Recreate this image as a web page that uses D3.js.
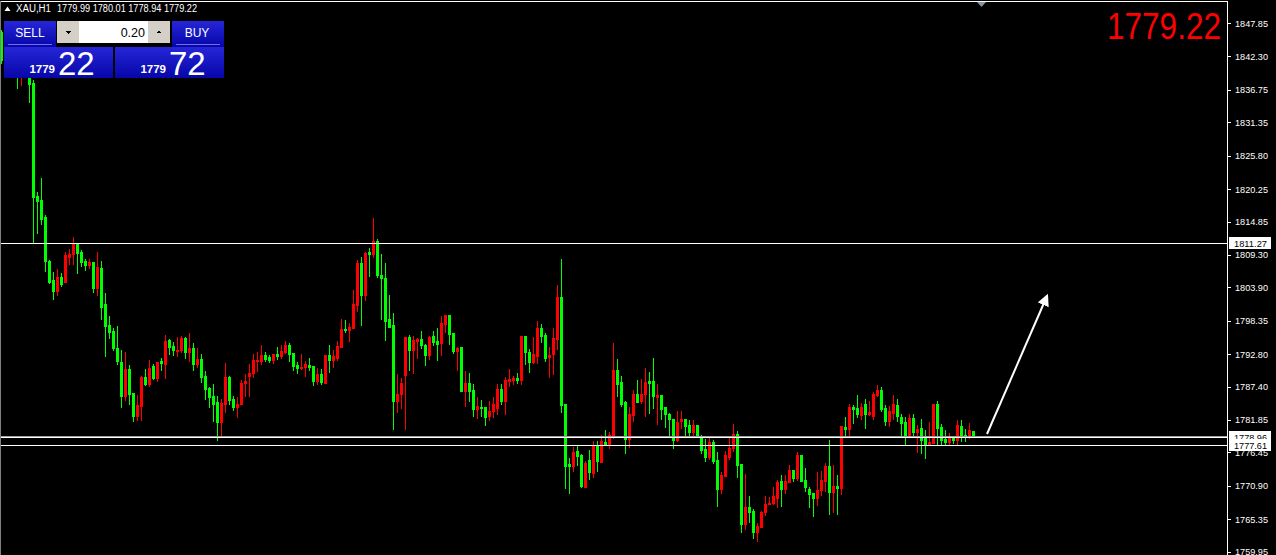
<!DOCTYPE html>
<html><head><meta charset="utf-8">
<script src="https://cdnjs.cloudflare.com/ajax/libs/d3/7.8.5/d3.min.js"></script>
<style>html,body{margin:0;padding:0;background:#000;overflow:hidden}svg{display:block}</style>
</head><body><svg id="c" width="1276" height="555"></svg>
<script>
const symbol = "XAU,H1";
const lastBar = ["1779.99", "1780.01", "1778.94", "1779.22"];
const open = [
1846.37,1842.54,1841.04,1842.37,1841.38,1839.38,1840.71,1839.72,1837.89,1819.09,
1818.43,1815.60,1808.28,1805.12,1803.29,1805.62,1804.79,1808.95,1809.44,1811.28,
1809.78,1808.28,1807.62,1808.12,1803.79,1807.12,1801.13,1797.64,1796.64,1793.81,
1791.49,1785.83,1790.32,1786.33,1782.51,1784.17,1788.99,1787.82,1790.82,1788.82,
1791.65,1791.15,1795.14,1794.15,1793.31,1793.48,1795.48,1793.15,1793.81,1791.15,
1791.99,1789.15,1787.16,1785.83,1784.83,1781.51,1784.50,1788.99,1785.33,1784.00,
1784.50,1787.99,1789.15,1789.65,1791.65,1791.65,1792.65,1792.32,1791.82,1792.81,
1792.48,1793.15,1794.31,1792.98,1790.98,1790.48,1790.65,1790.98,1790.82,1788.32,
1789.49,1787.99,1792.65,1791.82,1792.15,1793.98,1796.97,1796.81,1797.14,1800.97,
1807.95,1802.63,1809.78,1809.44,1811.61,1805.96,1805.46,1798.64,1797.64,1785.00,
1786.16,1789.32,1795.64,1793.48,1794.98,1795.31,1794.31,1792.65,1795.81,1794.98,
1794.64,1797.81,1799.30,1796.31,1793.31,1793.98,1786.66,1787.99,1786.83,1783.67,
1784.00,1784.00,1782.51,1783.34,1783.83,1786.99,1785.00,1788.32,1788.49,1788.82,
1788.49,1795.81,1793.15,1791.49,1792.48,1797.14,1795.98,1792.32,1792.81,1795.31,
1802.30,1784.50,1774.52,1774.19,1776.69,1776.02,1770.70,1775.19,1773.03,1777.52,
1774.86,1778.18,1777.85,1779.18,1790.15,1788.16,1784.83,1778.68,1782.67,1786.16,
1785.00,1786.16,1788.32,1788.32,1785.67,1786.00,1784.00,1782.84,1782.01,1778.51,
1781.67,1782.01,1781.01,1779.85,1781.01,1779.18,1777.02,1775.69,1778.18,1775.19,
1770.36,1772.53,1775.69,1777.18,1779.51,1774.52,1764.54,1767.37,1766.71,1763.21,
1764.04,1766.54,1767.87,1768.03,1768.87,1771.70,1770.36,1771.53,1773.52,1772.19,
1776.02,1771.86,1770.36,1769.70,1768.87,1770.20,1771.70,1774.19,1769.87,1770.86,
1770.53,1780.68,1780.35,1784.00,1783.83,1782.67,1784.50,1782.84,1782.51,1786.00,
1786.83,1783.83,1781.67,1783.00,1784.33,1782.34,1781.51,1779.35,1782.17,1779.85,
1780.51,1778.85,1777.68,1778.01,1784.50,1780.68,1778.68,1778.18,1779.18,1778.51,
1780.84,1779.35,1779.02,1779.99];
const high = [
1846.70,1843.37,1843.04,1843.37,1842.54,1841.71,1841.38,1840.05,1838.39,1819.76,
1822.09,1815.94,1808.45,1806.46,1806.96,1806.29,1809.78,1810.28,1812.28,1811.28,
1810.11,1808.62,1808.62,1808.12,1809.78,1808.28,1802.96,1799.14,1797.14,1797.47,
1793.48,1793.15,1790.98,1786.33,1786.00,1789.15,1790.32,1791.82,1791.15,1791.49,
1792.15,1795.98,1795.31,1794.81,1795.64,1795.81,1795.64,1796.31,1794.64,1793.81,
1792.81,1789.99,1787.33,1787.82,1785.83,1785.33,1791.32,1789.15,1785.83,1785.67,
1788.49,1789.49,1791.15,1792.81,1793.15,1794.31,1793.15,1792.65,1792.81,1793.98,
1794.31,1794.98,1794.64,1792.98,1791.49,1792.81,1791.65,1792.15,1790.82,1790.48,
1790.32,1792.65,1794.31,1793.48,1794.98,1798.64,1798.47,1797.97,1803.46,1808.45,
1808.95,1809.78,1810.45,1815.43,1811.95,1809.44,1807.95,1802.63,1799.63,1789.49,
1788.82,1795.64,1795.98,1795.81,1795.48,1796.64,1794.48,1795.81,1796.64,1797.14,
1799.14,1799.30,1799.30,1796.31,1793.98,1793.98,1789.99,1789.65,1787.82,1785.67,
1785.17,1784.00,1785.00,1785.67,1787.82,1787.82,1788.99,1790.32,1789.15,1789.65,
1795.81,1795.81,1793.65,1795.64,1798.30,1797.81,1796.31,1793.98,1797.14,1804.29,
1808.62,1784.50,1775.52,1777.35,1777.52,1776.18,1775.02,1776.85,1778.35,1778.35,
1779.35,1780.18,1779.85,1794.64,1791.99,1789.15,1785.00,1784.00,1786.83,1788.49,
1788.66,1790.48,1789.82,1792.15,1787.82,1786.00,1784.00,1783.00,1782.01,1783.34,
1783.34,1782.01,1781.84,1781.84,1781.01,1779.35,1778.68,1778.85,1778.51,1776.52,
1773.19,1776.69,1778.85,1781.17,1780.01,1774.52,1772.86,1769.20,1767.04,1764.71,
1766.71,1769.20,1769.03,1770.70,1771.86,1772.69,1772.69,1774.36,1773.52,1776.52,
1776.02,1773.86,1770.70,1769.70,1773.19,1773.36,1774.69,1778.51,1774.36,1772.69,
1780.84,1782.34,1784.50,1784.33,1786.00,1784.67,1785.33,1785.00,1786.49,1787.66,
1787.33,1784.33,1784.17,1786.00,1785.33,1782.84,1782.34,1782.84,1782.84,1781.01,
1782.01,1780.18,1781.51,1784.50,1785.00,1781.17,1780.18,1779.68,1779.18,1781.84,
1781.84,1780.35,1781.34,1780.01];
const low = [
1841.21,1840.71,1840.05,1839.72,1837.06,1837.56,1839.05,1834.73,1811.45,1812.94,
1814.43,1806.62,1804.62,1801.96,1802.63,1804.12,1804.79,1807.78,1807.78,1806.29,
1807.45,1806.79,1807.12,1803.13,1802.63,1798.64,1792.48,1795.48,1793.48,1791.15,
1784.00,1785.17,1784.50,1781.67,1781.84,1781.84,1787.66,1787.49,1788.66,1788.32,
1790.15,1788.82,1792.81,1792.65,1792.48,1793.15,1792.15,1791.65,1790.15,1790.65,
1788.16,1785.33,1784.00,1781.67,1778.51,1779.35,1783.17,1784.50,1783.50,1782.34,
1784.50,1785.83,1785.83,1788.99,1789.99,1791.15,1791.65,1791.49,1791.32,1791.99,
1792.15,1792.98,1791.65,1790.15,1789.65,1790.32,1789.15,1790.15,1787.66,1787.82,
1787.82,1787.99,1789.82,1790.65,1791.82,1793.98,1796.48,1794.98,1797.14,1799.97,
1797.64,1801.80,1805.79,1808.95,1805.62,1798.64,1795.14,1797.31,1780.35,1783.17,
1783.83,1780.35,1790.15,1789.65,1792.15,1793.81,1790.98,1791.99,1794.31,1791.82,
1792.65,1796.48,1794.48,1792.98,1790.15,1786.66,1784.17,1785.00,1782.51,1782.17,
1782.51,1781.01,1781.84,1782.34,1782.84,1784.50,1782.84,1787.49,1787.82,1787.99,
1787.82,1791.15,1789.82,1791.32,1791.32,1794.81,1791.65,1788.99,1789.49,1793.65,
1783.17,1770.53,1769.70,1773.36,1774.36,1770.70,1770.70,1772.03,1772.36,1773.36,
1774.86,1777.68,1777.18,1778.85,1785.83,1784.17,1776.35,1777.35,1781.67,1784.83,
1784.67,1782.51,1783.00,1783.83,1781.17,1782.01,1780.68,1779.02,1777.18,1778.35,
1780.51,1779.35,1779.35,1779.35,1779.02,1776.35,1775.02,1775.36,1774.69,1767.53,
1769.70,1772.53,1775.36,1776.69,1772.36,1763.21,1763.71,1764.88,1762.21,1761.71,
1764.04,1766.04,1767.87,1767.87,1767.37,1767.53,1769.70,1771.53,1771.70,1771.86,
1771.70,1770.03,1767.37,1765.87,1767.70,1769.37,1770.03,1766.21,1766.54,1766.21,
1769.53,1779.18,1779.35,1781.34,1782.34,1782.01,1780.51,1782.67,1782.01,1785.83,
1783.34,1781.01,1780.84,1782.01,1781.67,1779.02,1777.68,1779.35,1779.35,1776.52,
1776.35,1775.52,1777.68,1778.01,1777.85,1777.68,1777.85,1777.85,1778.01,1777.68,
1778.35,1778.35,1778.85,1778.94];
const close = [
1841.71,1841.38,1842.04,1840.71,1839.72,1840.71,1839.38,1837.72,1818.93,1818.26,
1815.27,1808.28,1804.79,1803.29,1805.62,1804.45,1809.28,1809.44,1811.28,1809.61,
1808.12,1807.62,1808.12,1803.79,1807.29,1800.63,1797.47,1796.48,1793.81,1791.65,
1785.83,1790.32,1786.16,1782.51,1784.33,1788.99,1787.82,1790.48,1788.82,1791.49,
1791.32,1794.98,1793.98,1793.48,1793.48,1795.48,1793.15,1793.81,1791.15,1791.99,
1788.99,1786.99,1785.67,1784.50,1781.51,1784.67,1788.99,1785.17,1784.00,1784.50,
1787.99,1788.32,1789.65,1791.82,1791.82,1792.65,1791.99,1791.82,1792.81,1792.48,
1793.31,1794.31,1792.81,1790.82,1790.48,1790.65,1791.15,1790.65,1788.32,1789.49,
1788.16,1792.65,1791.82,1792.48,1794.15,1796.97,1796.81,1797.31,1801.13,1807.95,
1802.63,1809.61,1809.44,1811.61,1805.96,1805.46,1798.30,1797.31,1785.00,1786.16,
1787.99,1795.64,1793.48,1795.14,1795.31,1794.31,1792.65,1795.64,1794.81,1794.48,
1797.97,1799.30,1796.14,1793.31,1793.81,1786.66,1787.99,1786.66,1783.67,1784.17,
1783.83,1782.34,1783.34,1784.50,1786.99,1785.00,1788.49,1788.66,1788.82,1788.49,
1795.81,1793.15,1791.49,1792.81,1797.14,1795.81,1792.15,1792.65,1795.48,1802.30,
1784.33,1774.19,1774.19,1776.52,1775.85,1770.86,1774.69,1773.19,1777.52,1775.02,
1778.35,1777.85,1779.35,1790.15,1787.82,1784.50,1778.68,1782.84,1786.16,1784.83,
1786.16,1788.16,1787.99,1785.83,1786.00,1783.67,1782.84,1782.01,1778.51,1781.51,
1782.01,1780.84,1779.85,1781.01,1779.18,1776.85,1775.69,1778.18,1775.02,1770.36,
1772.69,1776.02,1777.18,1779.51,1774.36,1764.54,1767.37,1766.54,1763.21,1764.21,
1766.54,1767.87,1768.03,1769.20,1771.53,1770.36,1771.70,1773.52,1772.19,1776.02,
1771.70,1770.70,1769.53,1768.87,1770.20,1771.86,1774.19,1769.87,1770.86,1770.53,
1780.84,1780.35,1784.00,1783.67,1782.84,1784.00,1782.84,1783.17,1786.16,1786.83,
1783.67,1781.67,1783.34,1784.50,1782.51,1781.34,1779.35,1782.17,1779.85,1780.35,
1778.51,1777.68,1778.18,1784.50,1780.51,1778.51,1778.18,1779.18,1778.51,1781.01,
1779.18,1779.02,1780.18,1779.22];
const tickValues = [1847.85,1842.30,1836.75,1831.35,1825.80,1820.25,1814.85,1809.30,1803.90,
  1798.35,1792.80,1787.40,1781.85,1776.45,1770.90,1765.35,1759.95];
const hLines = [1811.27, 1778.96, 1777.61];
const bidPrice = 1779.22;
const askPrice = 1779.72;
const lotSize = "0.20";
const arrowFrom = [246.5, 1779.51];
const arrowTo = [261.5, 1802.46];

const W = 1276, H = 555, plotRight = 1227;
const svg = d3.select("#c");
const x = d3.scaleLinear().domain([0, open.length - 1]).range([1, 973]);
const y = d3.scaleLinear().domain([1759.39, 1851.69]).range([555, 0]);
const font = "'Liberation Sans', Arial, sans-serif";

svg.append("rect").attr("width", W).attr("height", H).attr("fill", "#000");

const bars = open.map((o, i) => ({i, o, h: high[i], l: low[i], c: close[i]}));
const g = svg.append("g").attr("shape-rendering", "crispEdges");
const col = d => d.c >= d.o ? "#ff0000" : "#00ff00";
g.selectAll("rect.w").data(bars).join("rect").attr("class", "w")
  .attr("x", d => Math.round(x(d.i))).attr("width", 1)
  .attr("y", d => Math.round(y(d.h)))
  .attr("height", d => Math.round(y(d.l)) - Math.round(y(d.h)) + 1)
  .attr("fill", col);
g.selectAll("rect.b").data(bars).join("rect").attr("class", "b")
  .attr("x", d => Math.round(x(d.i)) - 1).attr("width", 3)
  .attr("y", d => Math.round(y(Math.max(d.o, d.c))))
  .attr("height", d => Math.round(y(Math.min(d.o, d.c))) - Math.round(y(Math.max(d.o, d.c))) + 1)
  .attr("fill", col);

// bid line and horizontal lines
const lg = svg.append("g").attr("shape-rendering", "crispEdges");
lg.append("line").attr("x1", 0).attr("x2", plotRight)
  .attr("y1", Math.round(y(bidPrice)) + 0.5).attr("y2", Math.round(y(bidPrice)) + 0.5)
  .attr("stroke", "#a0a0a0");
lg.selectAll("line.h").data(hLines).join("line").attr("class", "h")
  .attr("x1", 0).attr("x2", plotRight)
  .attr("y1", d => Math.round(y(d)) + 0.5).attr("y2", d => Math.round(y(d)) + 0.5)
  .attr("stroke", "#fff");

// arrow
const defs = svg.append("defs");
defs.append("marker").attr("id", "ah").attr("viewBox", "0 0 10 10").attr("refX", 8).attr("refY", 5)
  .attr("markerWidth", 6).attr("markerHeight", 6).attr("orient", "auto")
  .append("path").attr("d", "M0,0L10,5L0,10z").attr("fill", "#fff");
svg.append("line").attr("x1", x(arrowFrom[0])).attr("y1", y(arrowFrom[1]))
  .attr("x2", x(arrowTo[0])).attr("y2", y(arrowTo[1]))
  .attr("stroke", "#fff").attr("stroke-width", 2).attr("marker-end", "url(#ah)");

// frame
svg.append("line").attr("x1", 0).attr("x2", plotRight).attr("y1", 1.5).attr("y2", 1.5)
  .attr("stroke", "#fff").attr("shape-rendering", "crispEdges");
svg.append("line").attr("x1", 0.5).attr("x2", 0.5).attr("y1", 1).attr("y2", H)
  .attr("stroke", "#808080").attr("shape-rendering", "crispEdges");
// shift marker
svg.append("path").attr("d", "M977,2L986,2L981.5,7Z").attr("fill", "#8494a4");

// right axis
const axis = d3.axisRight(y).tickValues(tickValues).tickSize(4).tickSizeOuter(0).tickPadding(4)
  .tickFormat(d3.format(".2f"));
const ag = svg.append("g").attr("transform", `translate(${plotRight},0)`).call(axis);
ag.select(".domain").attr("stroke", "#fff").attr("shape-rendering", "crispEdges");
ag.selectAll(".tick line").attr("stroke", "#fff").attr("shape-rendering", "crispEdges");
ag.selectAll(".tick text").attr("fill", "#fff").attr("font-family", font).attr("font-size", 9.5)
  .attr("textLength", 33).attr("lengthAdjust", "spacingAndGlyphs");

// price labels
const pl = svg.append("g").selectAll("g").data(hLines).join("g")
  .attr("transform", d => `translate(${plotRight + 2},${Math.round(y(d))})`);
pl.append("rect").attr("x", 0).attr("y", -6).attr("width", 42).attr("height", 12).attr("fill", "#fff")
  .attr("shape-rendering", "crispEdges");
pl.append("text").attr("x", 5).attr("y", 3.5).text(d => d3.format(".2f")(d))
  .attr("fill", "#000").attr("font-family", font).attr("font-size", 9.5)
  .attr("textLength", 33).attr("lengthAdjust", "spacingAndGlyphs");

// big bid
svg.append("text").attr("x", 1221).attr("y", 39).attr("text-anchor", "end")
  .attr("fill", "#ff0000").attr("font-family", font).attr("font-size", 36)
  .attr("textLength", 114).attr("lengthAdjust", "spacingAndGlyphs")
  .text(d3.format(".2f")(bidPrice));

// header
svg.append("path").attr("d", "M4.5,11L7.5,6.5L10.5,11Z").attr("fill", "#fff");
svg.append("text").attr("x", 16).attr("y", 12).attr("fill", "#fff").attr("font-family", font)
  .attr("font-size", 10).attr("textLength", 35).attr("lengthAdjust", "spacingAndGlyphs").text(symbol);
svg.append("text").attr("x", 57).attr("y", 12).attr("fill", "#fff").attr("font-family", font)
  .attr("font-size", 10).attr("textLength", 140).attr("lengthAdjust", "spacingAndGlyphs")
  .text(lastBar.join(" "));

// one-click trading panel
const grad = defs.append("linearGradient").attr("id", "bl").attr("x1", 0).attr("x2", 0).attr("y1", 0).attr("y2", 1);
grad.append("stop").attr("offset", 0).attr("stop-color", "#2626d8");
grad.append("stop").attr("offset", 1).attr("stop-color", "#0606a8");
const pg = svg.append("g").attr("shape-rendering", "crispEdges");
pg.append("rect").attr("x", 4).attr("y", 21).attr("width", 52).attr("height", 26).attr("fill", "url(#bl)");
pg.append("rect").attr("x", 172).attr("y", 21).attr("width", 52).attr("height", 26).attr("fill", "url(#bl)");
pg.append("rect").attr("x", 4).attr("y", 47).attr("width", 109).attr("height", 31).attr("fill", "url(#bl)");
pg.append("rect").attr("x", 115).attr("y", 47).attr("width", 109).attr("height", 31).attr("fill", "url(#bl)");
pg.append("rect").attr("x", 8).attr("y", 44).attr("width", 44).attr("height", 1).attr("fill", "#6f6fe8");
pg.append("rect").attr("x", 176).attr("y", 44).attr("width", 44).attr("height", 1).attr("fill", "#6f6fe8");
pg.append("rect").attr("x", 57).attr("y", 21).attr("width", 22).attr("height", 22).attr("fill", "#d4d0c8");
pg.append("rect").attr("x", 148).attr("y", 21).attr("width", 22).attr("height", 22).attr("fill", "#d4d0c8");
pg.append("rect").attr("x", 79).attr("y", 21).attr("width", 69).attr("height", 22).attr("fill", "#fff");
pg.append("path").attr("d", "M66,31L71,31L68.5,34Z").attr("fill", "#000");
pg.append("path").attr("d", "M156.5,33L161.5,33L159,30Z").attr("fill", "#000");
const t = (xx, yy, s, size, anchor, weight) => svg.append("text").attr("x", xx).attr("y", yy)
  .attr("fill", "#fff").attr("font-family", font).attr("font-size", size)
  .attr("text-anchor", anchor || "start").attr("font-weight", weight || "normal").text(s);
t(30, 37, "SELL", 12, "middle");
t(197, 37, "BUY", 12, "middle");
t(145, 36.5, lotSize, 12.5, "end").attr("fill", "#000");
const bidS = d3.format(".2f")(bidPrice).split("."), askS = d3.format(".2f")(askPrice).split(".");
t(55, 73, bidS[0], 11.5, "end", "bold");
t(58, 74.5, bidS[1], 33);
t(166, 73, askS[0], 11.5, "end", "bold");
t(169, 74.5, askS[1], 33);
</script></body></html>
